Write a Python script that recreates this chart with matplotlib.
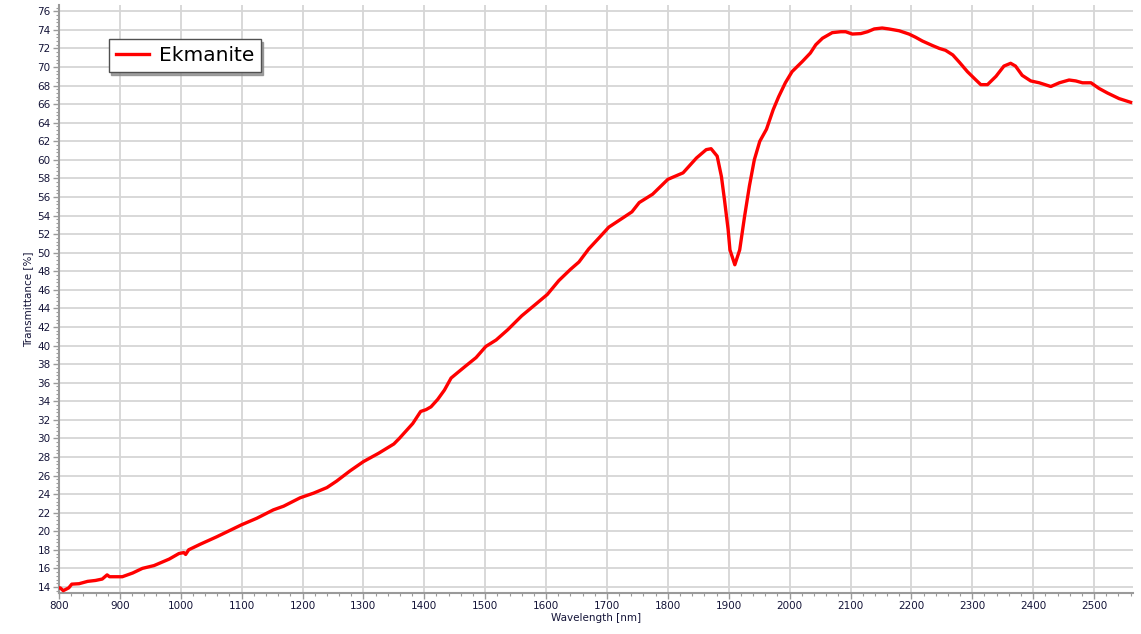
import matplotlib
matplotlib.use("Agg")
import matplotlib.pyplot as plt
from matplotlib.ticker import MultipleLocator

wavelength = [800, 802, 807, 816, 821, 833, 847, 860, 871, 879, 883, 904, 921, 937, 956,
              981, 997, 1005, 1008, 1013, 1032, 1059, 1100, 1125, 1152, 1169, 1196, 1218,
              1240, 1256, 1278, 1300, 1325, 1350, 1359, 1381, 1394, 1403, 1411, 1422, 1433,
              1444, 1455, 1468, 1485, 1501, 1518, 1537, 1560, 1582, 1602, 1621, 1640, 1654,
              1670, 1687, 1703, 1725, 1741, 1753, 1775, 1800, 1825, 1847, 1863, 1871, 1881,
              1888, 1893, 1899, 1902, 1910, 1918, 1926, 1934, 1942, 1951, 1962, 1973, 1982,
              1993, 2004, 2021, 2034, 2043, 2054, 2070, 2084, 2092, 2103, 2117, 2128, 2139,
              2152, 2163, 2180, 2196, 2207, 2218, 2235, 2246, 2256, 2268, 2279, 2292, 2306,
              2314, 2325, 2339, 2352, 2363, 2371, 2382, 2396, 2410, 2429, 2443, 2459, 2470,
              2481, 2495, 2508, 2522, 2541, 2560]
transmittance = [13.9, 13.9, 13.6, 13.9, 14.3, 14.35, 14.6, 14.7, 14.85, 15.3, 15.1, 15.1,
                 15.5, 16.0, 16.3, 17.0, 17.6, 17.7, 17.5, 18.0, 18.6, 19.4, 20.7, 21.4, 22.3,
                 22.7, 23.6, 24.1, 24.7, 25.4, 26.5, 27.5, 28.4, 29.4, 30.0, 31.6, 32.9, 33.1,
                 33.4, 34.2, 35.2, 36.5, 37.1, 37.8, 38.7, 39.9, 40.6, 41.7, 43.2, 44.4, 45.5,
                 47.0, 48.2, 49.0, 50.4, 51.6, 52.75, 53.7, 54.4, 55.4, 56.3, 57.9, 58.6, 60.2,
                 61.1, 61.2, 60.4, 58.2, 55.7, 52.5, 50.3, 48.7, 50.3, 53.9, 57.2, 60.0, 62.0,
                 63.3, 65.4, 66.8, 68.3, 69.5, 70.6, 71.5, 72.4, 73.1, 73.7, 73.8, 73.8, 73.55,
                 73.6, 73.8, 74.1, 74.2, 74.1, 73.9, 73.55, 73.2, 72.8, 72.3, 72.0, 71.8, 71.3,
                 70.5, 69.5, 68.6, 68.1, 68.1, 69.0, 70.1, 70.4, 70.1, 69.1, 68.5, 68.3, 67.9,
                 68.3, 68.6, 68.5, 68.3, 68.3, 67.7, 67.2, 66.6, 66.2]
series_name = "Ekmanite"
x_label = "Wavelength [nm]"
y_label = "Transmittance [%]"

label_color = "#141438"
axis_color = "#9a9a9a"
grid_color = "#d6d6d6"

fig = plt.figure(figsize=(11.41, 6.34), dpi=100)
ax = fig.add_axes([0.0517, 0.0647, 0.9413, 0.927])

ax.plot(wavelength, transmittance, color="#ff0000", lw=2.4, label=series_name,
        solid_joinstyle="round", zorder=3)

ax.set_xlim(800, 2564)
ax.set_ylim(13.35, 76.65)
ax.xaxis.set_major_locator(MultipleLocator(100))
ax.xaxis.set_minor_locator(MultipleLocator(20))
ax.yaxis.set_major_locator(MultipleLocator(2))
ax.yaxis.set_minor_locator(MultipleLocator(0.4))

ax.grid(True, which="major", color=grid_color, lw=1.3, zorder=0)
for s in ["top", "right"]:
    ax.spines[s].set_visible(False)
for s in ["left", "bottom"]:
    ax.spines[s].set_color(axis_color)
    ax.spines[s].set_linewidth(1.5)

ax.tick_params(which="major", direction="out", length=4, width=1, color=axis_color,
               labelsize=7.5, labelcolor=label_color, pad=2)
ax.tick_params(which="minor", direction="out", length=2, width=0.8, color=axis_color)

ax.set_xlabel(x_label, fontsize=7.5, color=label_color, labelpad=1)
ax.set_ylabel(y_label, fontsize=7.5, color=label_color, labelpad=3)

leg = ax.legend(loc="upper left", bbox_to_anchor=(0.0468, 0.942), borderaxespad=0,
                fontsize=14.5, frameon=True, fancybox=False,
                shadow={"ox": 1.6, "oy": -1.6, "color": "#8a8a8a", "alpha": 0.8},
                handlelength=1.6, handletextpad=0.5, borderpad=0.35)
leg.get_frame().set_edgecolor("#505050")
leg.get_frame().set_linewidth(1.0)

fig.savefig("out.png", dpi=100)
